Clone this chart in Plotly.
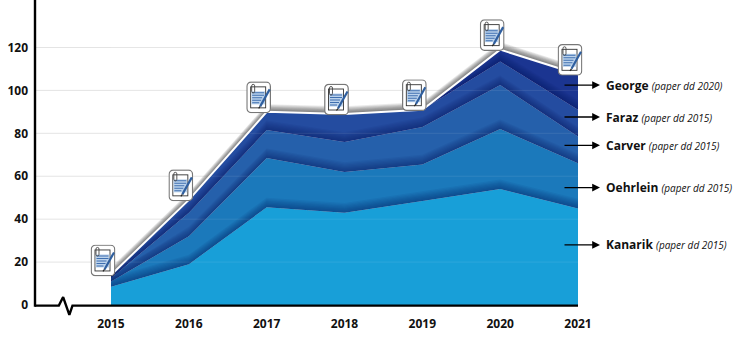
import base64
import numpy as np
import plotly.graph_objects as go

years = [2015, 2016, 2017, 2018, 2019, 2020, 2021]
kanarik = [8.5, 19, 45.5, 43, 48.5, 54, 45]
oehrlein = [2.5, 13, 23, 19, 17, 28, 21]
carver = [1.5, 11, 13, 14, 17.5, 20.5, 12.5]
faraz = [1.5, 6, 8.5, 13, 8, 11, 12.5]
george = [0, 0, 0, 0, 0, 5.5, 16.5]
series_values = [kanarik, oehrlein, carver, faraz, george]
series_colors = ["#189fd8", "#1b79bb", "#2560ab", "#244ca0", "#1b3591"]

label_names = ["George", "Faraz", "Carver", "Oehrlein", "Kanarik"]
label_years = ["2020", "2015", "2015", "2015", "2015"]
label_levels = [102.5, 87.6, 74.4, 54.7, 28]
y_ticks = [0, 20, 40, 60, 80, 100, 120]
y_tick_labels = ["0", "20", "40", "60", "80", "100", "120"]
axis_start = 2015 - 76 / 77.83
axis_break_x = [axis_start, 2014.33, 2014.385, 2014.465, 2014.505, 2021]
axis_break_y = [-0.3, -0.3, 3.7, -4.6, -0.3, -0.3]

W, H = 738, 355
PX_X = 77.83
PX_Y = 2.146
plot_left = 30
plot_right = 610
plot_bottom = 320
x_lo = 2015 - (111 - plot_left) / PX_X
x_hi = 2021 + (plot_right - 578) / PX_X
y_lo = -(plot_bottom - 305) / PX_Y
y_hi = 305 / PX_Y

tops = np.cumsum(np.array(series_values, dtype=float), axis=0)
top_edge = tops[-1]

SVG = """<svg xmlns='http://www.w3.org/2000/svg' viewBox='0 0 25 32' width='25' height='32'>
<rect x='0.8' y='0.8' width='23.4' height='30.4' rx='4' fill='#ffffff' stroke='#777777' stroke-width='1.2'/>
<rect x='4.5' y='5.5' width='15' height='21' fill='#ffffff' stroke='#333333' stroke-width='0.9'/>
<rect x='5.2' y='10' width='13.6' height='13' fill='#bcd3ec'/>
<g stroke='#3f6fb0' stroke-width='1'><line x1='6' y1='11.5' x2='18' y2='11.5'/><line x1='6' y1='14' x2='18' y2='14'/>
<line x1='6' y1='16.5' x2='16' y2='16.5'/><line x1='6' y1='19' x2='15' y2='19'/><line x1='6' y1='21.5' x2='13' y2='21.5'/></g>
<rect x='5.5' y='3' width='3' height='8.5' rx='1.5' fill='none' stroke='#444444' stroke-width='0.9'/>
<line x1='14' y1='25' x2='23.5' y2='8' stroke='#2f5f9f' stroke-width='2.2'/>
<line x1='12.5' y1='27' x2='14' y2='25' stroke='#222222' stroke-width='1.2'/>
</svg>"""
icon_uri = "data:image/svg+xml;base64," + base64.b64encode(SVG.encode()).decode()

fig = go.Figure()


def band(lo, hi, color):
    fig.add_trace(go.Scatter(x=years, y=lo, mode="lines", line=dict(width=0),
                             hoverinfo="skip", showlegend=False))
    fig.add_trace(go.Scatter(x=years, y=hi, mode="lines", line=dict(width=0),
                             fill="tonexty", fillcolor=color,
                             hoverinfo="skip", showlegend=False))


# gridlines behind everything, stopping at the last year
for v in y_ticks[1:]:
    fig.add_trace(go.Scatter(x=[axis_start, years[-1]], y=[v, v], mode="lines",
                             line=dict(color="#e4e4e4", width=1),
                             hoverinfo="skip", showlegend=False))

# soft grey shadow above the outer edge
for k in range(9, 0, -1):
    band(top_edge, top_edge + k * 0.85 / PX_Y, "rgba(50,50,50,0.10)")

# filled layers
base = np.zeros(len(years))
for t, c in zip(tops, series_colors):
    band(base, t, c)
    base = t

# dark shading that each lower layer casts on the layer above it
for t in tops[:-1]:
    for k in range(1, 9):
        band(t, np.minimum(t + k * 1.2 / PX_Y, top_edge), "rgba(8,25,85,0.06)")

# gridlines seen faintly through the areas
for v in y_ticks[1:]:
    fig.add_trace(go.Scatter(x=[years[0], years[-1]], y=[v, v], mode="lines",
                             line=dict(color="rgba(255,255,255,0.09)", width=1),
                             hoverinfo="skip", showlegend=False))

# white outer edge
fig.add_trace(go.Scatter(x=years, y=top_edge, mode="lines",
                         line=dict(color="#ffffff", width=2),
                         hoverinfo="skip", showlegend=False))

# axes with the break in x
fig.add_trace(go.Scatter(x=axis_break_x, y=axis_break_y, mode="lines",
                         line=dict(color="#000000", width=2.4), cliponaxis=False,
                         hoverinfo="skip", showlegend=False))
fig.add_trace(go.Scatter(x=[axis_start, axis_start], y=[-0.8, y_hi], mode="lines",
                         line=dict(color="#000000", width=2.4), cliponaxis=False,
                         hoverinfo="skip", showlegend=False))

images = [dict(source=icon_uri, xref="x", yref="y", x=yr - 8 / PX_X, y=t - 1.5 / PX_Y,
               sizex=25 / PX_X, sizey=32 / PX_Y, xanchor="center", yanchor="bottom",
               sizing="stretch", layer="above")
          for yr, t in zip(years, top_edge)]

plot_w = plot_right - plot_left
annotations = []
for name, yr, lvl in zip(label_names, label_years, label_levels):
    annotations.append(dict(x=(600 - plot_left) / plot_w, y=lvl, xref="paper", yref="y",
                            ax=-37, ay=0, axref="pixel", ayref="pixel", text="", showarrow=True,
                            arrowhead=2, arrowsize=1.2, arrowwidth=1.3, arrowcolor="#000000",
                            standoff=0, startstandoff=0))
    annotations.append(dict(x=(604 - plot_left) / plot_w, y=lvl, xref="paper", yref="y",
                            xanchor="left", yanchor="middle", showarrow=False,
                            text=f"<b>{name}</b> <i><span style='font-size:10px;'>(paper dd {yr})</span></i>",
                            font=dict(family="Open Sans", size=12, color="#111111")))

fig.update_layout(
    width=W, height=H, margin=dict(l=plot_left, r=W - plot_right, t=0, b=H - plot_bottom, pad=0),
    plot_bgcolor="#ffffff", paper_bgcolor="#ffffff", showlegend=False,
    images=images, annotations=annotations,
    xaxis=dict(range=[x_lo, x_hi], tickmode="array", tickvals=years,
               ticktext=[str(y) for y in years], showgrid=False, zeroline=False,
               showline=False, ticks="", ticklabelstandoff=-5,
               tickfont=dict(family="Open Sans", size=12, color="#111111", weight="bold")),
    yaxis=dict(range=[y_lo, y_hi], tickmode="array", tickvals=y_ticks, ticktext=y_tick_labels,
               showgrid=False, zeroline=False,
               showline=False, ticks="", ticklabelstandoff=1,
               tickfont=dict(family="Open Sans", size=12, color="#111111", weight="bold")),
)

fig.write_html("out.html", config={"displayModeBar": False},
               post_script="document.body.style.margin='0';")
